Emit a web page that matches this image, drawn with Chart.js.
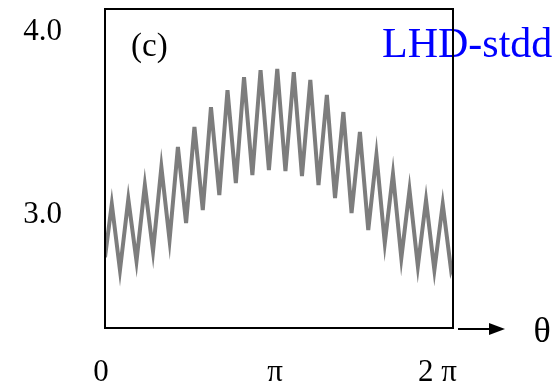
<!DOCTYPE html>
<html>
<head>
<meta charset="utf-8">
<script src="https://cdn.jsdelivr.net/npm/chart.js@4/dist/chart.umd.min.js"></script>
<style>
    html, body { margin: 0; padding: 0; background: #ffffff; }
    #chart { display: block; }
</style>
</head>
<body>
<canvas id="chart" width="553" height="385"></canvas>
<script>

// theta in units of pi (peaks and troughs of the ripple)
const thetaPi = [
    0, 0.039, 0.086, 0.134, 0.181, 0.229, 0.276, 0.324, 0.371, 0.419, 0.466,
    0.514, 0.562, 0.609, 0.657, 0.704, 0.752, 0.799, 0.847, 0.894, 0.942,
    0.990, 1.037, 1.085, 1.132, 1.180, 1.227, 1.275, 1.322, 1.370, 1.417,
    1.465, 1.513, 1.560, 1.608, 1.655, 1.703, 1.750, 1.798, 1.845, 1.893,
    1.941, 1.989, 2.0
]

const valores = [
    2.77, 3.060, 2.699, 3.087, 2.749, 3.164, 2.803, 3.262, 2.863, 3.372, 2.956,
    3.481, 3.027, 3.590, 3.109, 3.683, 3.175, 3.754, 3.219, 3.792, 3.246,
    3.798, 3.240, 3.781, 3.213, 3.738, 3.164, 3.656, 3.093, 3.563, 3.011,
    3.454, 2.918, 3.328, 2.847, 3.224, 2.765, 3.137, 2.721, 3.082, 2.699,
    3.060, 2.699, 2.73
]

const xTicks = [0, 1, 2]
const xTickLabels = ['0', 'π', '2 π   ']
const yTicks = [3.0, 4.0]
const yTickLabels = ['3.0', '4.0']

const panelLabel = '(c)'
const configLabel = 'LHD-stdd'
const axisSymbol = 'θ'

const serif = '"Liberation Serif", "DejaVu Serif", serif'

// texts, frame and the theta arrow
const marco = {
    id: 'marco',
    afterDraw(chart) {
        const ctx = chart.ctx
        const a = chart.chartArea
        ctx.save()

        ctx.textBaseline = 'alphabetic'
        ctx.textAlign = 'left'
        ctx.fillStyle = '#000'
        ctx.font = '33px ' + serif
        ctx.fillText(panelLabel, a.left + 26, 56)

        ctx.fillStyle = '#0000ff'
        ctx.font = '42px ' + serif
        ctx.fillText(configLabel, 382, 57)

        ctx.strokeStyle = '#000'
        ctx.fillStyle = '#000'
        ctx.lineWidth = 2
        ctx.strokeRect(a.left, a.top, a.right - a.left, a.bottom - a.top)

        const yA = a.bottom + 1
        ctx.beginPath()
        ctx.moveTo(a.right + 5, yA)
        ctx.lineTo(a.right + 38, yA)
        ctx.stroke()
        ctx.beginPath()
        ctx.moveTo(a.right + 36, yA - 6)
        ctx.lineTo(a.right + 52, yA)
        ctx.lineTo(a.right + 36, yA + 6)
        ctx.closePath()
        ctx.fill()

        ctx.textAlign = 'center'
        ctx.font = '36px ' + serif
        ctx.fillText(axisSymbol, a.right + 89, a.bottom + 14)

        ctx.restore()
    }
}

const data = {
    datasets: [{
        label: 'B',
        data: thetaPi.map((t, i) => { return { x: t, y: valores[i] } }),
        borderColor: '#7d7d7d',
        borderWidth: 4,
        pointRadius: 0,
        tension: 0,
        fill: false
    }]
}

const config = {
    type: 'line',
    data: data,
    options: {
        responsive: false,
        animation: false,
        devicePixelRatio: 1,
        layout: {
            padding: { left: 0, top: 9, right: 100, bottom: 0 }
        },
        plugins: {
            legend: { display: false },
            tooltip: { enabled: false }
        },
        scales: {
            x: {
                type: 'linear',
                min: 0,
                max: 2,
                grid: { display: false, drawTicks: false },
                border: { display: false },
                afterFit: (scale) => { scale.height = 57 },
                afterBuildTicks: (scale) => { scale.ticks = xTicks.map((v) => { return { value: v } }) },
                ticks: {
                    padding: 26,
                    labelOffset: -4,
                    maxRotation: 0,
                    autoSkip: false,
                    color: '#000',
                    font: { family: serif, size: 31 },
                    callback: (value) => { return xTickLabels[xTicks.indexOf(value)] }
                }
            },
            y: {
                type: 'linear',
                min: 2.383,
                max: 4.126,
                grid: { display: false, drawTicks: false },
                border: { display: false },
                afterFit: (scale) => {
                    scale.width = 105
                    scale.paddingTop = 0
                    scale.paddingBottom = 0
                },
                afterBuildTicks: (scale) => { scale.ticks = yTicks.map((v) => { return { value: v } }) },
                ticks: {
                    padding: 43,
                    color: '#000',
                    font: { family: serif, size: 31 },
                    callback: (value) => { return yTickLabels[yTicks.indexOf(value)] }
                }
            }
        }
    },
    plugins: [marco]
}

const canvasOnda = document.getElementById('chart')
const graficoOnda = new Chart(canvasOnda, config)

</script>
</body>
</html>
